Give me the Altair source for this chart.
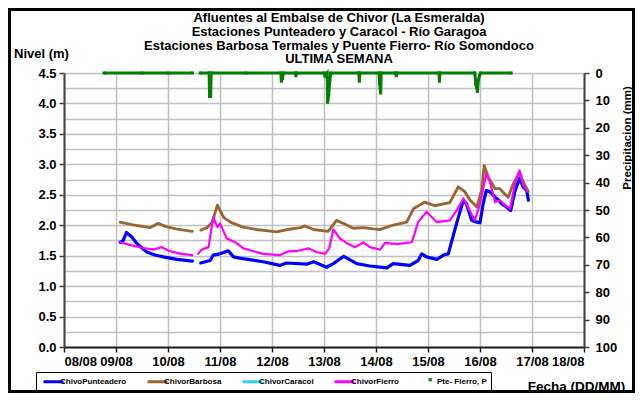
import altair as alt
import pandas as pd

SERIES = ["ChivoPunteadero", "ChivorBarbosa", "ChivorCaracol", "ChivorFierro", "Pte- Fierro, P"]
COLORS = ["#0000ff", "#996633", "#33ccff", "#ff00ff", "transparent"]
P_COLOR = "#008000"
TITLE = ["Afluentes al Embalse de Chivor (La Esmeralda)",
         "Estaciones Punteadero y Caracol - Río Garagoa",
         "Estaciones Barbosa Termales y Puente Fierro- Río Somondoco",
         "ULTIMA SEMANA"]
X_TICKS = list(range(8, 19))
Y_TICKS = [i * 0.25 for i in range(19)]
P_TICKS = list(range(0, 101, 10))
GAP = 10.55  # data gap between 10/08 and 11/08

# ChivoPunteadero (m)
pun_day = [9.08, 9.14, 9.2, 9.3, 9.40, 9.59, 9.75, 9.91, 10.17, 10.47,
           10.63, 10.81, 10.87, 11.0, 11.16, 11.26, 11.38, 11.6, 11.83, 12.15, 12.28, 12.67, 12.80,
           13.05, 13.18, 13.38, 13.63, 13.88, 14.21, 14.33, 14.65, 14.81, 14.88, 14.97, 15.17, 15.30,
           15.39, 15.55, 15.68, 15.74, 15.84, 15.90, 16.0, 16.06, 16.12, 16.19, 16.29, 16.35, 16.42,
           16.51, 16.59, 16.67, 16.76, 16.83, 16.90, 16.93]
pun_lvl = [1.72, 1.75, 1.88, 1.81, 1.70, 1.56, 1.51, 1.48, 1.44, 1.41,
           1.38, 1.42, 1.51, 1.53, 1.58, 1.48, 1.46, 1.43, 1.40, 1.34, 1.38, 1.36, 1.40,
           1.31, 1.37, 1.49, 1.37, 1.33, 1.30, 1.37, 1.34, 1.42, 1.53, 1.48, 1.44, 1.51,
           1.53, 2.03, 2.41, 2.35, 2.08, 2.06, 2.04, 2.35, 2.57, 2.55, 2.46, 2.42, 2.35,
           2.30, 2.24, 2.55, 2.77, 2.63, 2.57, 2.41]

# ChivorBarbosa (m)
bar_day = [9.08, 9.3, 9.5, 9.65, 9.81, 9.95, 10.15, 10.3, 10.47,
           10.63, 10.75, 10.85, 10.95, 11.07, 11.2, 11.44, 11.7, 12.09, 12.3, 12.55, 12.63, 12.8,
           13.08, 13.24, 13.4, 13.56, 13.75, 13.95, 14.08, 14.33, 14.59, 14.72, 14.94, 15.13, 15.42,
           15.58, 15.71, 15.81, 15.94, 16.03, 16.08, 16.16, 16.29, 16.38, 16.54, 16.64, 16.76,
           16.83, 16.93]
bar_lvl = [2.05, 2.01, 1.98, 1.96, 2.03, 1.98, 1.94, 1.92, 1.90,
           1.92, 1.96, 2.05, 2.33, 2.13, 2.05, 1.97, 1.93, 1.89, 1.93, 1.96, 1.99, 1.93,
           1.90, 2.08, 2.02, 1.95, 1.96, 1.94, 1.93, 2.00, 2.05, 2.27, 2.38, 2.32, 2.37,
           2.63, 2.55, 2.41, 2.30, 2.57, 2.98, 2.79, 2.60, 2.60, 2.46, 2.68, 2.87,
           2.71, 2.55]

# ChivorCaracol (m) - no data this week
car_day = []
car_lvl = []

# ChivorFierro (m)
fie_day = [9.08, 9.3, 9.5, 9.72, 9.88, 10.05, 10.25, 10.47,
           10.58, 10.65, 10.78, 10.87, 10.95, 11.0, 11.13, 11.3, 11.45, 11.83, 12.15, 12.31, 12.5,
           12.70, 12.85, 13.02, 13.10, 13.18, 13.31, 13.45, 13.60, 13.76, 13.88, 14.08, 14.17, 14.40,
           14.69, 14.81, 14.97, 15.17, 15.42, 15.55, 15.68, 15.90, 16.0, 16.12, 16.19, 16.29, 16.38,
           16.48, 16.58, 16.67, 16.76, 16.83, 16.90]
fie_lvl = [1.72, 1.67, 1.63, 1.60, 1.64, 1.57, 1.53, 1.51,
           1.53, 1.60, 1.64, 2.13, 1.97, 2.03, 1.78, 1.72, 1.62, 1.53, 1.51, 1.57, 1.58,
           1.62, 1.56, 1.53, 1.62, 1.93, 1.78, 1.70, 1.64, 1.72, 1.64, 1.60, 1.71, 1.69,
           1.72, 2.05, 2.22, 2.05, 2.08, 2.24, 2.44, 2.08, 2.35, 2.85, 2.71, 2.38, 2.41,
           2.33, 2.27, 2.68, 2.90, 2.66, 2.57]

# Pte- Fierro, P (mm)
pre_day = [8.77, 9.5, 10.0, 10.47,
           10.62, 10.79, 10.80, 10.82, 10.83, 11.5, 12.17, 12.18, 12.20, 12.22, 12.45, 12.46, 12.47,
           13.0, 13.02, 13.06, 13.07, 13.09, 13.11, 13.13, 13.67, 13.68, 13.69, 14.06, 14.07, 14.09,
           14.10, 14.38, 14.39, 14.40, 15.21, 15.22, 15.23, 15.90, 15.92, 15.95, 15.97, 15.99, 16.01,
           16.60]
pre_mm = [0, 0, 0, 0,
          0, 0, 8.5, 8.5, 0, 0, 0, 3, 2, 0, 0, 1, 0,
          0, 1, 0, 10.7, 8, 3, 0, 0, 3, 0, 0, 4, 7.3,
          0, 0, 1, 0, 0, 3, 0, 0, 4, 6.7, 2.4, 1, 0,
          0]

rows = []
for name, ds, vs in [(SERIES[0], pun_day, pun_lvl), (SERIES[1], bar_day, bar_lvl),
                     (SERIES[2], car_day, car_lvl), (SERIES[3], fie_day, fie_lvl)]:
    for d, v in zip(ds, vs):
        rows.append({"serie": name, "dia": d, "nivel": v, "tramo": 1 if d < GAP else 2})
lv = pd.DataFrame(rows, columns=["serie", "dia", "nivel", "tramo"])
pp = pd.DataFrame({"serie": SERIES[4], "dia": pre_day, "mm": pre_mm,
                   "tramo": [1 if d < GAP else 2 for d in pre_day]})

FONT = "Liberation Sans"
W, H = 520, 274

color_scale = alt.Scale(domain=SERIES, range=COLORS)
legend_lines = alt.Legend(
    title=None, orient="none", direction="horizontal", columns=5, gridAlign="each",
    legendX=-28, legendY=299, strokeColor="#000000", padding=4, cornerRadius=0,
    labelFont=FONT, labelFontSize=8, labelFontWeight="bold", labelColor="#000000",
    labelOffset=9, columnPadding=14, symbolType="M-0.5,0H4.5", symbolStrokeWidth=3,
    symbolSize=64, labelLimit=200,
)
legend_pts = alt.Legend(
    title=None, orient="none", legendX=362.4, legendY=303, padding=0,
    labelExpr="''", symbolType="square", symbolSize=10,
    symbolFillColor=P_COLOR, symbolStrokeColor=P_COLOR, symbolStrokeWidth=0,
    labelFontSize=7.5,
)

x_enc = alt.X("dia:Q", scale=alt.Scale(domain=[8, 18], nice=False, zero=False),
              axis=alt.Axis(values=X_TICKS, title="Fecha (DD/MM)",
                            labelExpr="(datum.value < 10 ? '0' : '') + datum.value + '/08'",
                            grid=True, gridColor="#c0c0c0", gridWidth=1.5,
                            domainColor="#202020", domainWidth=2, tickColor="#202020",
                            tickWidth=1.5, tickSize=5, labelPadding=3,
                            labelFont=FONT, labelFontSize=13, labelFontWeight="bold",
                            labelColor="#000000",
                            titleFont=FONT, titleFontSize=13.5, titleFontWeight="bold",
                            titleColor="#000000", titleX=512, titleY=39,
                            titleAlign="center", titleBaseline="middle"))

y_lvl = alt.Y("nivel:Q", scale=alt.Scale(domain=[0, 4.5], nice=False, zero=False),
              axis=alt.Axis(values=Y_TICKS, title="Nivel (m)",
                            labelExpr="round(datum.value*4) % 2 == 0 ? format(datum.value, '.1f') : ''",
                            tickOpacity={"condition": {"test": "round(datum.value*4) % 2 == 0", "value": 1}, "value": 0},
                            grid=True, gridColor="#c0c0c0", gridWidth=1.5,
                            domainColor="#404040", domainWidth=2, tickColor="#404040",
                            tickWidth=1.5, tickSize=5, labelPadding=3,
                            labelFont=FONT, labelFontSize=13, labelFontWeight="bold",
                            labelColor="#000000",
                            titleFont=FONT, titleFontSize=13, titleFontWeight="bold",
                            titleColor="#000000", titleAngle=0, titleX=-23, titleY=-20,
                            titleAlign="center", titleBaseline="middle"))

y_pre = alt.Y("mm:Q", scale=alt.Scale(domain=[0, 100], reverse=True, nice=False, zero=False),
              axis=alt.Axis(orient="right", values=P_TICKS, title="Precipitacion (mm)",
                            grid=False, domainColor="#404040", domainWidth=2,
                            tickColor="#404040", tickWidth=1.5, tickSize=5, labelPadding=6,
                            labelFont=FONT, labelFontSize=13, labelFontWeight="bold",
                            labelColor="#000000",
                            titleFont=FONT, titleFontSize=11.5, titleFontWeight="bold",
                            titleColor="#000000", titleAngle=270, titleX=43, titleY=64.5,
                            titleAlign="center", titleBaseline="middle"))

lines = alt.Chart(lv).mark_line(strokeJoin="round", strokeCap="round").encode(
    x=x_enc, y=y_lvl,
    color=alt.Color("serie:N", scale=color_scale, legend=legend_lines),
    strokeWidth=alt.StrokeWidth("serie:N", scale=alt.Scale(domain=SERIES[:4], range=[3.2, 2.2, 2.2, 3]),
                                legend=None),
    detail="tramo:N",
)

frame = alt.Chart(pd.DataFrame({"k": [0]})).mark_rect(fill="transparent", stroke="#000000",
                                                     strokeWidth=3).encode(
    x=alt.value(-54.5), x2=alt.value(569.5), y=alt.value(-63.5), y2=alt.value(318.5))

pline = alt.Chart(pp).mark_line(strokeWidth=3, color=P_COLOR).encode(
    x=x_enc, y=y_pre, detail="tramo:N")
ppts = alt.Chart(pp).mark_point(filled=True, size=9, opacity=1, color=P_COLOR).encode(
    x=x_enc, y=y_pre,
    shape=alt.Shape("serie:N", scale=alt.Scale(domain=[SERIES[4]], range=["square"]),
                    legend=legend_pts))

chart = alt.layer(
    alt.layer(lines, frame),
    alt.layer(pline, ppts),
).resolve_scale(y="independent").properties(
    width=W, height=H,
    title=alt.TitleParams(text=TITLE, font=FONT, fontSize=13, fontWeight="bold",
                          color="#000000", lineHeight=13.7, anchor="middle", frame="group",
                          dx=15, dy=64.5, offset=6),
    autosize=alt.AutoSizeParams(type="none"),
    padding={"left": 56, "top": 65, "right": 51, "bottom": 46},
).configure_view(stroke=None).configure(background="#ffffff")

chart.save("out.html", embed_options={"renderer": "svg", "actions": False})
